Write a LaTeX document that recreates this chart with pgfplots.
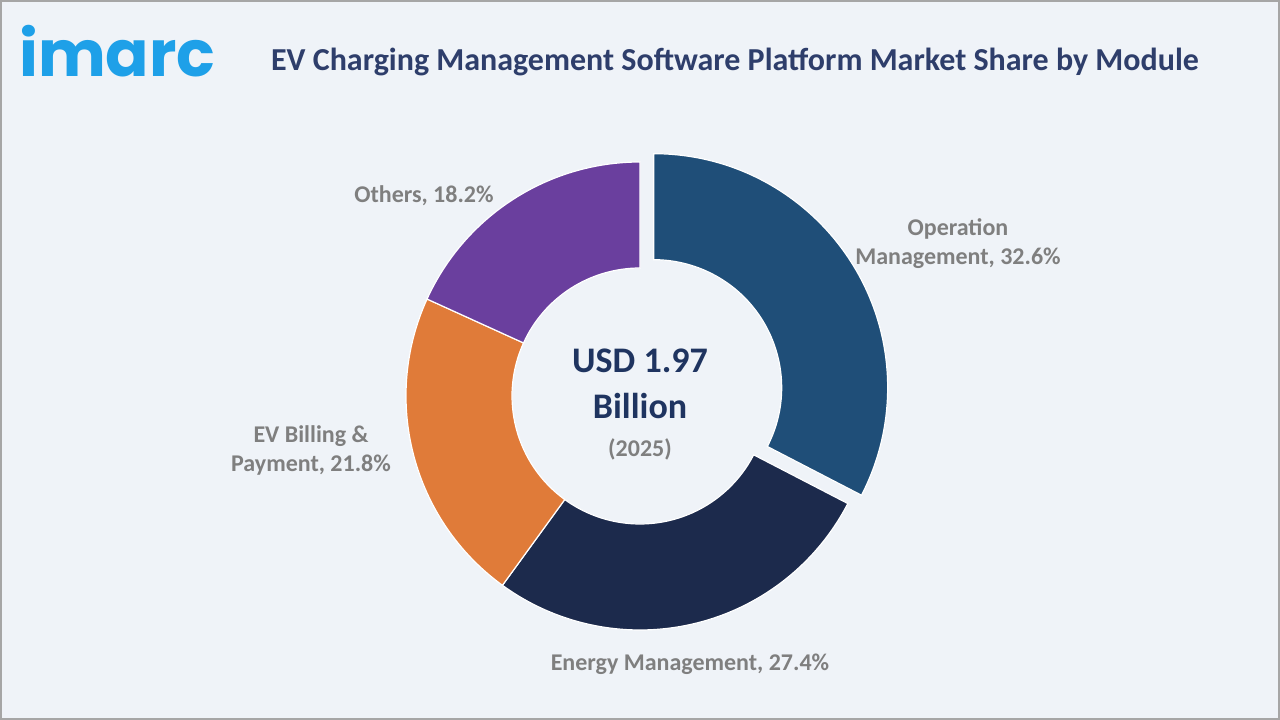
\documentclass[border=0pt]{standalone}
\usepackage{pgfplots}
\usepackage{pgfplotstable}
\pgfplotsset{compat=1.18}
\usepackage{fontspec}
\setmainfont{Carlito}
\newfontfamily\logofont{Poppins Bold}

\definecolor{bgpanel}{HTML}{EFF3F8}
\definecolor{framegray}{HTML}{A6A6A6}
\definecolor{titlenavy}{HTML}{2E3E6B}
\definecolor{centernavy}{HTML}{1F3460}
\definecolor{labelgray}{HTML}{7F7F7F}
\definecolor{logoblue}{HTML}{1EA0E8}
\definecolor{opblue}{HTML}{1F4E78}
\definecolor{ennavy}{HTML}{1C2A4C}
\definecolor{billorange}{HTML}{E07B39}
\definecolor{othpurple}{HTML}{6A3F9E}

% market share by module, in percent (clockwise from the top)
\pgfplotstableread[col sep=comma]{
module,share
Operation Management,32.6
Energy Management,27.4
EV Billing & Payment,21.8
Others,18.2
}\sharetable

\pgfplotstablegetelem{0}{share}\of\sharetable\let\vA\pgfplotsretval
\pgfplotstablegetelem{1}{share}\of\sharetable\let\vB\pgfplotsretval
\pgfplotstablegetelem{2}{share}\of\sharetable\let\vC\pgfplotsretval
\pgfplotstablegetelem{3}{share}\of\sharetable\let\vD\pgfplotsretval

% boundary angles of the slices
\pgfmathsetmacro\aO{90}
\pgfmathsetmacro\aA{\aO-3.6*\vA}
\pgfmathsetmacro\aB{\aA-3.6*\vB}
\pgfmathsetmacro\aC{\aB-3.6*\vC}
\pgfmathsetmacro\aD{\aC-3.6*\vD}
% the first slice is pulled out along its middle
\pgfmathsetmacro\mA{(\aO+\aA)/2}
\pgfmathsetmacro\ox{16*cos(\mA)}
\pgfmathsetmacro\oy{16*sin(\mA)}

\def\Ro{234}
\def\Ri{128}

\begin{document}
\begin{tikzpicture}[x=1pt,y=1pt]
  \fill[framegray] (0,0) rectangle (1280,720);
  \fill[bgpanel] (2,2) rectangle (1278,718);

  \node[anchor=base west, inner sep=0pt, text=logoblue,
        font=\logofont\fontsize{64}{64}\selectfont] at (19,643) {imarc};
  \node[text=titlenavy, font=\bfseries\fontsize{32}{36}\selectfont]
        at (735,658) {EV Charging Management Software Platform Market Share by Module};

  \begin{axis}[
      at={(640pt,324pt)}, anchor=origin,
      scale only axis, width=600pt, height=600pt,
      xmin=-300, xmax=300, ymin=-300, ymax=300,
      hide axis, clip=false]
    \addplot[draw=none] coordinates {(0,0)};
    \fill[opblue, draw=white, line width=1.2pt]
      (axis cs:{\ox+\Ro*cos(\aO)},{\oy+\Ro*sin(\aO)})
        arc[start angle=\aO, end angle=\aA, radius=\Ro pt]
      -- (axis cs:{\ox+\Ri*cos(\aA)},{\oy+\Ri*sin(\aA)})
        arc[start angle=\aA, end angle=\aO, radius=\Ri pt] -- cycle;
    \fill[ennavy, draw=white, line width=1.2pt]
      (axis cs:{\Ro*cos(\aA)},{\Ro*sin(\aA)})
        arc[start angle=\aA, end angle=\aB, radius=\Ro pt]
      -- (axis cs:{\Ri*cos(\aB)},{\Ri*sin(\aB)})
        arc[start angle=\aB, end angle=\aA, radius=\Ri pt] -- cycle;
    \fill[billorange, draw=white, line width=1.2pt]
      (axis cs:{\Ro*cos(\aB)},{\Ro*sin(\aB)})
        arc[start angle=\aB, end angle=\aC, radius=\Ro pt]
      -- (axis cs:{\Ri*cos(\aC)},{\Ri*sin(\aC)})
        arc[start angle=\aC, end angle=\aB, radius=\Ri pt] -- cycle;
    \fill[othpurple, draw=white, line width=1.2pt]
      (axis cs:{\Ro*cos(\aC)},{\Ro*sin(\aC)})
        arc[start angle=\aC, end angle=\aD, radius=\Ro pt]
      -- (axis cs:{\Ri*cos(\aD)},{\Ri*sin(\aD)})
        arc[start angle=\aD, end angle=\aC, radius=\Ri pt] -- cycle;
  \end{axis}

  % slice labels
  \begin{scope}[every node/.style={text=labelgray, align=center,
        font=\bfseries\fontsize{24}{29}\selectfont}]
    \node at (958,476) {Operation\\Management, \vA\%};
    \node at (690,56) {Energy Management, \vB\%};
    \node at (311,270) {EV Billing \&\\Payment, \vC\%};
    \node at (424,524) {Others, \vD\%};
  \end{scope}

  % total in the hole
  \node[text=centernavy, font=\bfseries\fontsize{36}{40}\selectfont] at (640,359) {USD 1.97};
  \node[text=centernavy, font=\bfseries\fontsize{36}{40}\selectfont] at (640,314) {Billion};
  \node[text=labelgray, font=\bfseries\fontsize{24}{28}\selectfont] at (640,271) {(2025)};
\end{tikzpicture}
\end{document}
